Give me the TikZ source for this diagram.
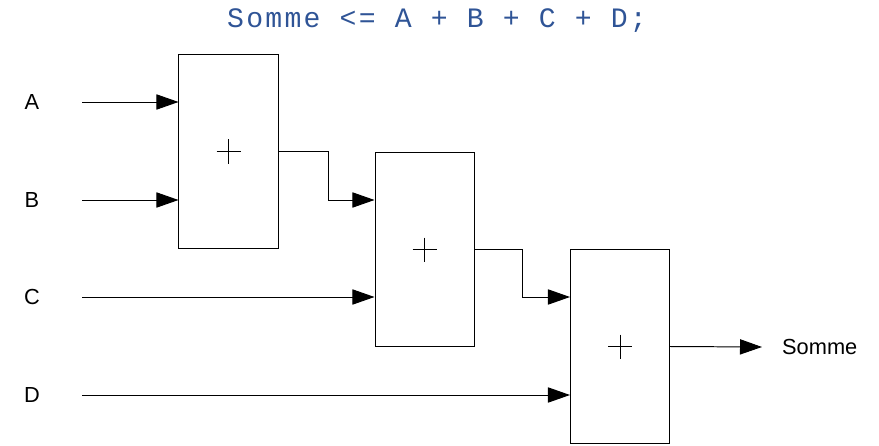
\documentclass[tikz,border=0pt]{standalone}
\usepackage{fontspec}
\setmainfont{Liberation Sans}
\newfontfamily\codefont{Liberation Mono}[LetterSpace=8]
\usetikzlibrary{arrows.meta}
\definecolor{codeblue}{RGB}{47,84,150}

\tikzset{
  adder/.style={draw,inner sep=0pt,minimum width=2.475cm,minimum height=4.825cm},
  sig/.style={->},
  lbl/.style={font=\fontsize{15.5}{18}\selectfont}
}

\begin{document}
\begin{tikzpicture}[x=0.025cm,y=-0.025cm,>={Triangle[length=5.5mm,width=3.8mm]},line width=0.7pt]
\useasboundingbox (0,0) rectangle (879,446);
% title line
\node[codeblue,anchor=base,font=\codefont\fontsize{20}{24}\selectfont] (title) at (437,28) {Somme <= A + B + C + D;};
% the three adders
\node[adder] (add1) at (228.5,151.5) {};
\node[adder] (add2) at (424.5,249.5) {};
\node[adder] (add3) at (620,346.5) {};
\foreach \b in {add1,add2,add3}
  \draw[line width=0.5pt] (\b.center) +(-12,0) -- +(12,0) +(0,-12) -- +(0,12);
% inputs
\node[lbl] (A) at (32,102) {A};
\node[lbl] (B) at (32,200) {B};
\node[lbl] (C) at (32,297) {C};
\node[lbl] (D) at (32,395) {D};
\coordinate (inA) at (82,102);
\coordinate (inB) at (82,200);
\coordinate (inC) at (82,297);
\coordinate (inD) at (82,395);
\coordinate (j1) at (328,200);
\coordinate (j2) at (522,297);
\coordinate (outS) at (762,347);
\node[lbl,anchor=west] (S) at (777,347) {Somme};
% wires
\draw[sig] (inA) -- (inA -| add1.west);
\draw[sig] (inB) -- (inB -| add1.west);
\draw[sig] (add1.east) -| (j1) -- (j1 -| add2.west);
\draw[sig] (inC) -- (inC -| add2.west);
\draw[sig] (add2.east) -| (j2) -- (j2 -| add3.west);
\draw[sig] (inD) -- (inD -| add3.west);
\draw[sig] (add3.east) -- (outS);
\end{tikzpicture}
\end{document}
